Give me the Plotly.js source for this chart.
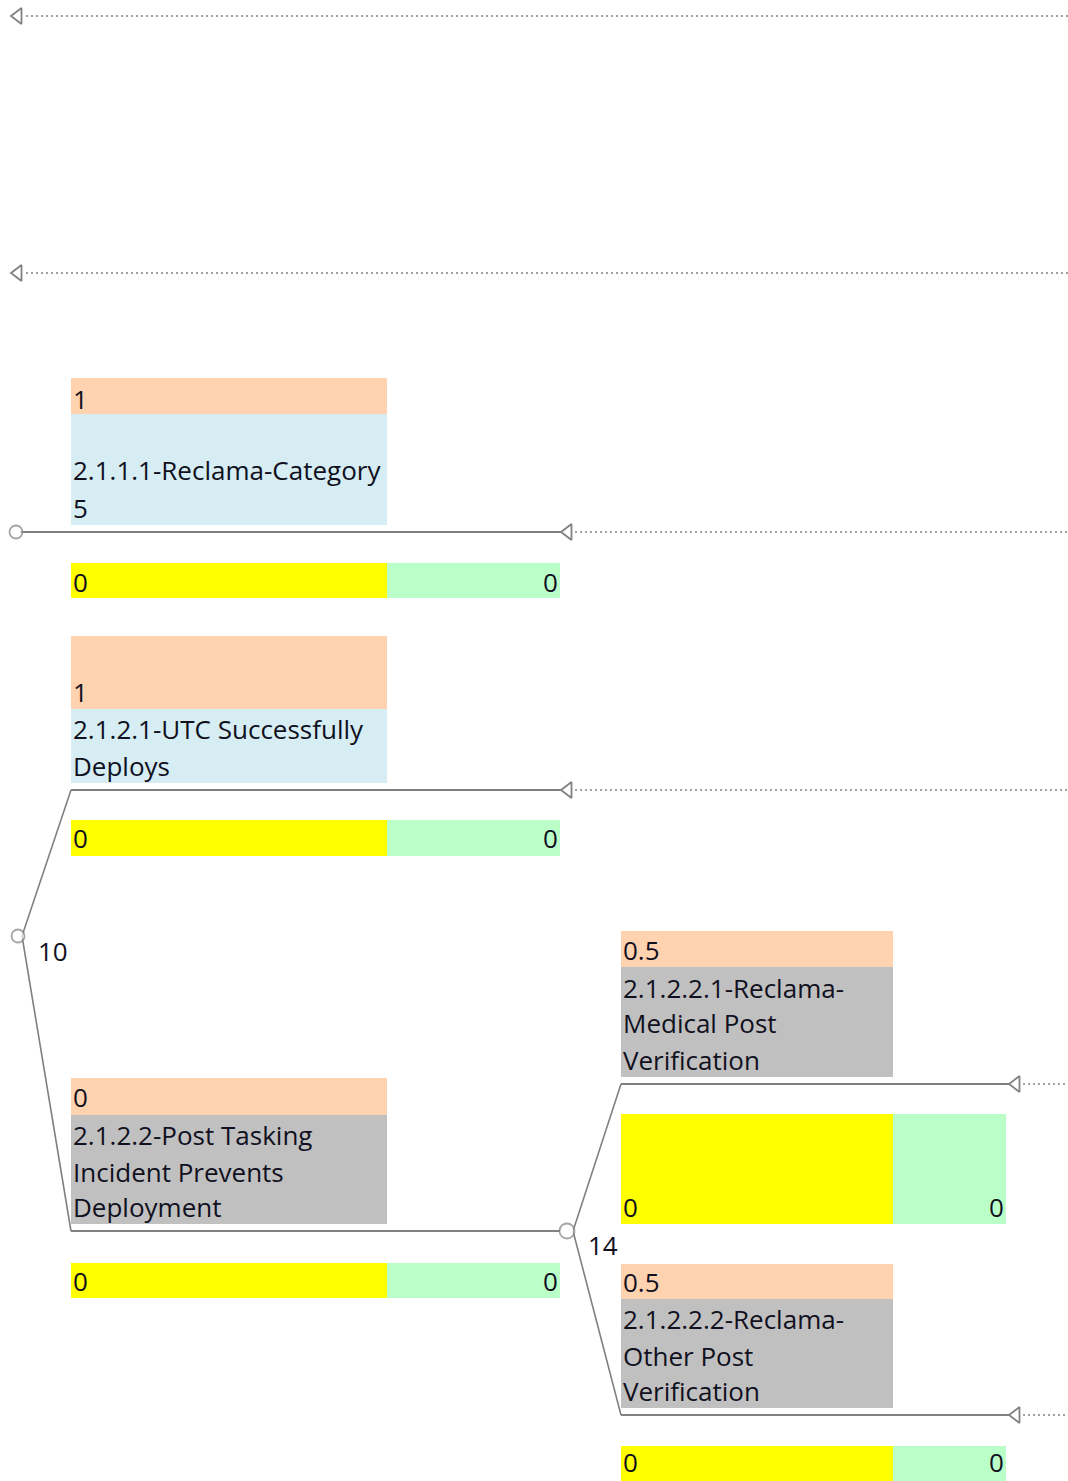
<!DOCTYPE html>
<html><head><meta charset="utf-8">
<script src="https://cdn.plot.ly/plotly-3.0.1.min.js"></script>
<style>body{margin:0;padding:0;background:#fff}#c{width:1068px;height:1481px}</style>
</head><body><div id="c"></div>
<script>
// ---- data ----
const nodeNames = ['2.1.1.1-Reclama-Category', '2.1.2.1-UTC Successfully Deploys', '2.1.2.2-Post Tasking Incident Prevents Deployment', '2.1.2.2.1-Reclama-Medical Post Verification', '2.1.2.2.2-Reclama-Other Post Verification'];
const nodeLabelLines = [['', '2.1.1.1-Reclama-Category', '5'], ['2.1.2.1-UTC Successfully', 'Deploys'], ['2.1.2.2-Post Tasking', 'Incident Prevents', 'Deployment'], ['2.1.2.2.1-Reclama-', 'Medical Post', 'Verification'], ['2.1.2.2.2-Reclama-', 'Other Post', 'Verification']];
const probabilities = ['1', '1', '0', '0.5', '0.5'];
const leftValues = ['0', '0', '0', '0', '0'];
const rightValues = ['0', '0', '0', '0', '0'];
const chanceLabels = ['10', '14'];
const nodeKind = ['ok', 'ok', 'alt', 'alt', 'alt'];
const isTerminal = [true, true, false, true, true];

// ---- layout geometry (pixels) ----
const G = [
  {x0:71, x1:387, x2:560, pT:378, pB:414, lB:525, line:532, yT:563, yB:598, end:562, lineStart:20, probY:399, lineYs:[436,470,508], valY:582},
  {x0:71, x1:387, x2:560, pT:636, pB:709, lB:783, line:790, yT:820, yB:856, end:562, lineStart:71, probY:692, lineYs:[729,766], valY:838},
  {x0:71, x1:387, x2:560, pT:1078, pB:1115, lB:1224, line:1231, yT:1263, yB:1298, end:560, lineStart:71, probY:1097, lineYs:[1135,1172,1207], valY:1281},
  {x0:621, x1:893, x2:1006, pT:931, pB:967, lB:1077, line:1084, yT:1114, yB:1224, end:1010, lineStart:621, probY:950, lineYs:[988,1023,1060], valY:1207},
  {x0:621, x1:893, x2:1006, pT:1264, pB:1299, lB:1408, line:1415, yT:1446, yB:1481, end:1010, lineStart:621, probY:1282, lineYs:[1319,1356,1391], valY:1462}
];
const chanceXY = [[18,936],[567,1231]];
const chanceLabelXY = [[37,951],[587,1245]];
const rootChance = [16,532];
const topArrows = [16, 273];

const colors = {prob:'#ffd3b0', ok:'#d5edf3', alt:'#c0c0c0', yellow:'#ffff00', green:'#bbffc8', line:'#808080', dot:'#a0a0a0'};
const FONT = '"Open Sans", Lato, sans-serif';
const FS = 26;

const shapes = [];
const annotations = [];
const traces = [];

function rect(x0,y0,x1,y1,c){shapes.push({type:'rect',xref:'x',yref:'y',x0,y0,x1,y1,fillcolor:c,line:{width:0},layer:'below'});}
function txt(x,y,t,anchor,ya){annotations.push({x,y,xref:'x',yref:'y',text:t,showarrow:false,borderpad:0,xanchor:anchor||'left',yanchor:ya||'middle',font:{family:FONT,size:FS,color:'#10101e'}});}

G.forEach((g,i)=>{
  rect(g.x0,g.pT,g.x1,g.pB,colors.prob);
  rect(g.x0,g.pB,g.x1,g.lB,colors[nodeKind[i]]);
  rect(g.x0,g.yT,g.x1,g.yB,colors.yellow);
  rect(g.x1,g.yT,g.x2,g.yB,colors.green);
  txt(g.x0+1,g.probY,probabilities[i]);
  nodeLabelLines[i].forEach((l,j)=>{ if(l) txt(g.x0+1,g.lineYs[j],l); });
  txt(g.x0+1,g.valY,leftValues[i]);
  txt(g.x2-1,g.valY,rightValues[i],'right');
  traces.push({x:[g.lineStart,g.end],y:[g.line,g.line],mode:'lines',line:{color:colors.line,width:2},hoverinfo:'skip'});
  if(isTerminal[i]){
    traces.push({x:[g.end+13,1068],y:[g.line,g.line],mode:'lines',line:{color:colors.dot,width:2,dash:'2px,3px'},hoverinfo:'skip'});
    traces.push({x:[g.end+6],y:[g.line],mode:'markers',marker:{symbol:'triangle-left-open',size:14,color:'#808080',line:{width:1.8,color:'#808080'}},hoverinfo:'skip'});
  }
});

// diagonal connectors from chance nodes
traces.push({x:[G[1].lineStart, 22, G[2].lineStart],y:[G[1].line, 936, G[2].line],mode:'lines',line:{color:colors.line,width:1.6},hoverinfo:'skip'});
traces.push({x:[G[3].lineStart, 573, G[4].lineStart],y:[G[3].line, 1231, G[4].line],mode:'lines',line:{color:colors.line,width:1.6},hoverinfo:'skip'});

// top dangling arrows
topArrows.forEach(y=>{
  traces.push({x:[26,1068],y:[y,y],mode:'lines',line:{color:colors.dot,width:2,dash:'2px,3px'},hoverinfo:'skip'});
  traces.push({x:[18],y:[y],mode:'markers',marker:{symbol:'triangle-left-open',size:14,color:'#808080',line:{width:1.8,color:'#808080'}},hoverinfo:'skip'});
});

// chance circles
traces.push({x:[rootChance[0], chanceXY[0][0], chanceXY[1][0]],y:[rootChance[1], chanceXY[0][1], chanceXY[1][1]],mode:'markers',marker:{symbol:'circle',size:[13,13,15],color:'#fff',line:{width:1.8,color:'#808080'}},hoverinfo:'skip'});
chanceLabels.forEach((l,i)=>txt(chanceLabelXY[i][0],chanceLabelXY[i][1],l));

Plotly.newPlot('c', traces, {
  width:1068, height:1481, margin:{l:0,r:0,t:0,b:0},
  paper_bgcolor:'#fff', plot_bgcolor:'#fff', showlegend:false,
  xaxis:{range:[0,1068],visible:false,fixedrange:true},
  yaxis:{range:[1481,0],visible:false,fixedrange:true},
  shapes, annotations
}, {staticPlot:true});
</script></body></html>
